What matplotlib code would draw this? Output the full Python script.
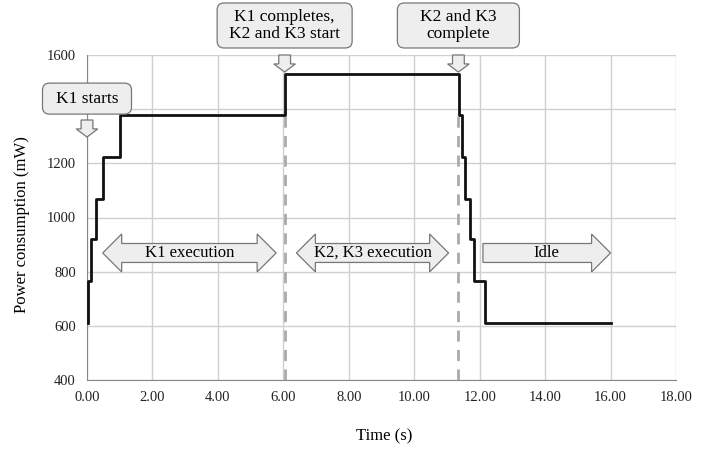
import matplotlib.pyplot as plt
from matplotlib.patches import FancyArrow, Polygon, FancyBboxPatch
from matplotlib.transforms import IdentityTransform

plt.rcParams['font.family'] = ['Liberation Serif', 'DejaVu Serif']

# step ends (s) and power levels (mW), drawn with step 'pre'
times = [0.03, 0.11, 0.27, 0.50, 1.01, 6.05, 11.36, 11.45, 11.56, 11.69, 11.83, 12.17, 16.0]
power = [610, 765, 920, 1070, 1225, 1380, 1530, 1380, 1225, 1070, 920, 765, 610]

# phase boundaries (dashed)
boundaries = [6.05, 11.33]
boundary_top = 1380

x_ticks = [0, 2, 4, 6, 8, 10, 12, 14, 16, 18]
y_ticks = [400, 600, 800, 1000, 1200, 1400, 1600]

# phase arrows: (label, start, end, double-headed)
phases = [("K1 execution", 0.48, 5.78, True),
          ("K2, K3 execution", 6.4, 11.05, True),
          ("Idle", 12.1, 16.0, False)]
phase_y = 869

# event callouts: (label, x, box y)
events = [("K1 starts", 0.0, 1439),
          ("K1 completes,\nK2 and K3 start", 6.04, 1709),
          ("K2 and K3\ncomplete", 11.35, 1709)]
event_arrow_top = [1360, 1600, 1600]
box_sizes = [(89, 31), (135, 45), (122, 45)]  # pixels

fig, ax = plt.subplots(figsize=(7.15, 4.5), dpi=100)
fig.subplots_adjust(left=87/715, right=676/715, top=1-55/450, bottom=1-380/450)

ax.set_xlim(0, 18)
ax.set_ylim(400, 1600)
ax.set_xticks(x_ticks)
ax.set_xticklabels([f"{t:.2f}" for t in x_ticks])
ax.set_yticks(y_ticks)
ax.grid(True, color='#d0d0d0', linewidth=1)
ax.set_axisbelow(True)
for s in ['top', 'right']:
    ax.spines[s].set_visible(False)
for s in ['left', 'bottom']:
    ax.spines[s].set_color('#888888')
ax.tick_params(length=0, labelsize=10.5, colors='#222222', pad=8)

for b in boundaries:
    ax.plot([b, b], [400, boundary_top], color='#aaaaaa', lw=2, ls=(0, (4, 3)), zorder=2)

ax.step(times, power, where='pre', color='#111111', lw=2, zorder=3)

# block arrows for phases
shaft_h = 70
head_h = 140
head_l = 0.58
for label, x0, x1, double in phases:
    y0, y1 = phase_y - shaft_h / 2, phase_y + shaft_h / 2
    h0, h1 = phase_y - head_h / 2, phase_y + head_h / 2
    pts = [(x1 - head_l, y0), (x1 - head_l, h0), (x1, phase_y), (x1 - head_l, h1), (x1 - head_l, y1)]
    if double:
        pts += [(x0 + head_l, y1), (x0 + head_l, h1), (x0, phase_y), (x0 + head_l, h0), (x0 + head_l, y0)]
    else:
        pts += [(x0, y1), (x0, y0)]
    ax.add_patch(Polygon(pts, closed=True, facecolor='#eeeeee', edgecolor='#777777', lw=0.9, zorder=4))
    ax.text((x0 + x1) / 2, phase_y, label, ha='center', va='center', fontsize=12, zorder=5)

# callouts with down arrows
for (label, x, by), top, (bw, bh) in zip(events, event_arrow_top, box_sizes):
    cx, cy = ax.transData.transform((x, by))
    box = FancyBboxPatch((cx - bw / 2, cy - bh / 2), bw, bh,
                         boxstyle='round,pad=0,rounding_size=7', transform=IdentityTransform(),
                         facecolor='#eeeeee', edgecolor='#777777', lw=0.9, zorder=6, clip_on=False)
    ax.add_artist(box)
    ax.text(x, by, label, ha='center', va='center', fontsize=12.5, linespacing=1.15,
            zorder=7, clip_on=False)
    ax.add_patch(FancyArrow(x, top, 0, -63, width=0.36, head_width=0.66, head_length=30,
                            length_includes_head=True, facecolor='#eeeeee', edgecolor='#777777',
                            lw=0.9, zorder=6, clip_on=False))

ax.set_xlabel('Time (s)', fontsize=12)
ax.set_ylabel('Power consumption (mW)', fontsize=12)
ax.xaxis.set_label_coords(0.504, -0.15)
ax.yaxis.set_label_coords(-0.097, 0.477)

fig.savefig('out.png', dpi=100)
